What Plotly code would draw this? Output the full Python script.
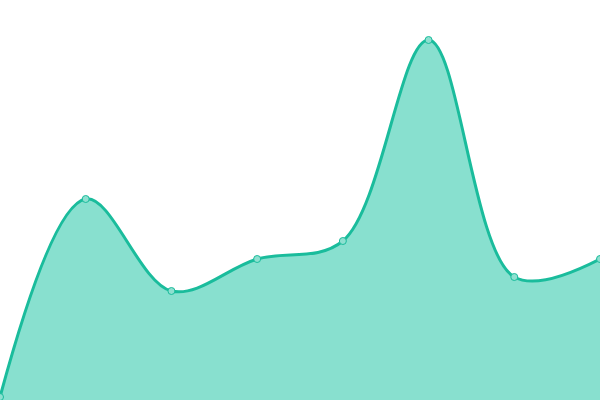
import plotly.graph_objects as go

# data
months = [0, 1, 2, 3, 4, 5, 6, 7]
values = [3, 201, 109, 141, 159, 360, 123, 141]

fig = go.Figure()

fig.add_trace(go.Scatter(
    x=months, y=values,
    mode='lines+markers',
    line=dict(color='#1abc9c', width=3, shape='spline', smoothing=1),
    marker=dict(size=7, color='#8ee0d0', line=dict(color='#1abc9c', width=1)),
    fill='tozeroy',
    fillcolor='#88e0cf',
    cliponaxis=False,
))

fig.update_layout(
    width=600, height=400,
    margin=dict(l=0, r=0, t=0, b=0),
    paper_bgcolor='white', plot_bgcolor='white',
    showlegend=False,
    xaxis=dict(range=[0, 7], visible=False),
    yaxis=dict(range=[0, 400], visible=False),
)

# page has a default 8px body margin, drop it so the chart fills the window
fig.write_html("out.html",
               config={'displayModeBar': False},
               post_script="document.body.style.margin='0';document.body.style.overflow='hidden';")
